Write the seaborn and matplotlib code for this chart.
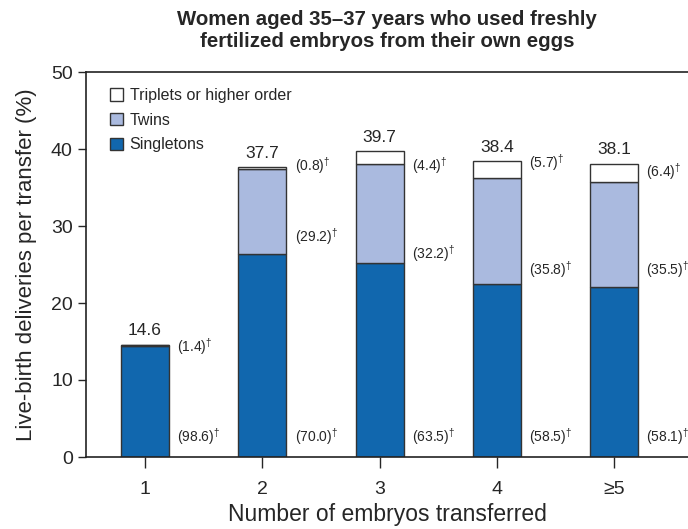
import numpy as np
import pandas as pd

import matplotlib
matplotlib.use("Agg")
import matplotlib.pyplot as plt
import matplotlib.patches as mpatches
import seaborn as sns

# ==================================================
# DATA
# ==================================================

categories = ["1", "2", "3", "4", "≥5"]

totals = [14.6, 37.7, 39.7, 38.4, 38.1]

singleton_pct = [98.6, 70.0, 63.5, 58.5, 58.1]
twin_pct = [1.4, 29.2, 32.2, 35.8, 35.5]
triplet_pct = [0.0, 0.8, 4.4, 5.7, 6.4]

# ==================================================
# STYLE / LAYOUT
# ==================================================

sns.set_style("ticks")
plt.rcParams["font.family"] = ["Liberation Sans", "DejaVu Sans"]
plt.rcParams["mathtext.fontset"] = "custom"
plt.rcParams["mathtext.rm"] = "Liberation Sans"

COLOR_SINGLE = "#1167ae"
COLOR_TWIN = "#aabadf"
COLOR_TRIP = "#ffffff"
EDGE = "#333333"

BAR_WIDTH = 0.41

# label heights (y, data units) for the percentage notes
single_label_y = [2.6, 2.6, 2.6, 2.6, 2.6]
twin_label_y = [14.4, 28.6, 26.4, 24.4, 24.3]
trip_label_y = [None, 37.9, 37.9, 38.3, 37.1]

# ==================================================
# SEGMENT HEIGHTS
# ==================================================

totals_arr = np.array(totals)
single_h = totals_arr * np.array(singleton_pct) / 100
twin_h = totals_arr * np.array(twin_pct) / 100
trip_h = totals_arr * np.array(triplet_pct) / 100

df = pd.DataFrame({
    "Transferred": categories,
    "Singletons": single_h,
    "Twins": twin_h,
    "Triplets": trip_h,
})

# ==================================================
# PLOT
# ==================================================

fig = plt.figure(figsize=(6.88, 5.29), dpi=100)
ax = fig.add_axes([86 / 688, 1 - 457 / 529, 1 - 86 / 688, (457 - 72) / 529])

sns.barplot(
    data=df, x="Transferred", y="Singletons",
    order=categories, color=COLOR_SINGLE, saturation=1,
    width=BAR_WIDTH, edgecolor=EDGE, linewidth=1.0, ax=ax
)

sns.barplot(
    data=df, x="Transferred", y="Twins",
    order=categories, color=COLOR_TWIN, saturation=1,
    width=BAR_WIDTH, edgecolor=EDGE, linewidth=1.0,
    bottom=single_h, ax=ax
)

sns.barplot(
    data=df, x="Transferred", y="Triplets",
    order=categories, color=COLOR_TRIP, saturation=1,
    width=BAR_WIDTH, edgecolor=EDGE, linewidth=1.0,
    bottom=single_h + twin_h, ax=ax
)

# ==================================================
# ANNOTATIONS
# ==================================================

for i, tot in enumerate(totals):

    ax.text(
        i, tot + 0.8, f"{tot:.1f}",
        ha="center", va="bottom", fontsize=12.5
    )

    x_note = i + BAR_WIDTH / 2 + 0.07

    ax.text(
        x_note, single_label_y[i],
        f"({singleton_pct[i]:.1f})" + r"$^{\dagger}$",
        ha="left", va="center", fontsize=10
    )

    ax.text(
        x_note, twin_label_y[i],
        f"({twin_pct[i]:.1f})" + r"$^{\dagger}$",
        ha="left", va="center", fontsize=10
    )

    if trip_label_y[i] is not None:
        ax.text(
            x_note, trip_label_y[i],
            f"({triplet_pct[i]:.1f})" + r"$^{\dagger}$",
            ha="left", va="center", fontsize=10
        )

# ==================================================
# AXES
# ==================================================

ax.set_ylim(0, 50)
ax.set_xlim(-0.503, 4.63)
ax.set_yticks([0, 10, 20, 30, 40, 50])

ax.tick_params(axis="y", labelsize=14, length=6, width=1, direction="out")
ax.tick_params(axis="x", labelsize=14, length=8, width=1, direction="out", pad=9)

for side in ["left", "bottom", "top"]:
    ax.spines[side].set_color("#222222")
    ax.spines[side].set_linewidth(1.2)
ax.spines["right"].set_visible(False)

ax.set_xlabel("Number of embryos transferred", fontsize=16.5, labelpad=4)
ax.set_ylabel("Live-birth deliveries per transfer (%)", fontsize=16, labelpad=10)

ax.set_title(
    "Women aged 35–37 years who used freshly\n"
    "fertilized embryos from their own eggs",
    fontsize=14.7, fontweight="bold", pad=18
)

handles = [
    mpatches.Patch(facecolor=COLOR_TRIP, edgecolor=EDGE, linewidth=1.0,
                   label="Triplets or higher order"),
    mpatches.Patch(facecolor=COLOR_TWIN, edgecolor=EDGE, linewidth=1.0,
                   label="Twins"),
    mpatches.Patch(facecolor=COLOR_SINGLE, edgecolor=EDGE, linewidth=1.0,
                   label="Singletons"),
]

ax.legend(
    handles=handles, loc="upper left", bbox_to_anchor=(0.03, 0.975),
    frameon=False, fontsize=11.5, handlelength=0.8, handleheight=0.8,
    handletextpad=0.4, labelspacing=0.6, borderaxespad=0
)

fig.savefig("out.png", dpi=100)
